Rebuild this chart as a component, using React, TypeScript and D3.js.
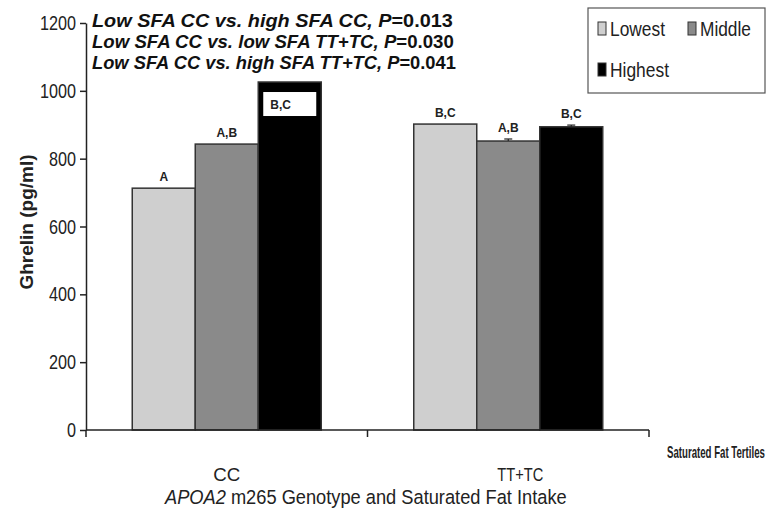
import React, { useEffect, useRef } from "react";
import * as d3 from "d3";

const width = 768,
  height = 508;

// genotype groups and SFA tertiles
const genotypes = ["CC", "TT+TC"];
const tertiles = ["Lowest", "Middle", "Highest"];
const ccValues = [713, 843, 1026];
const ttValues = [902, 852, 894];
const ccErrors = [0, 0, 0];
const ttErrors = [0, 6, 5];
const ccLetters = ["A", "A,B", "B,C"];
const ttLetters = ["B,C", "A,B", "B,C"];
const yTicks = [0, 200, 400, 600, 800, 1000, 1200];
const notes = [
  ["Low SFA CC vs. high SFA CC, ", "0.013"],
  ["Low SFA CC vs. low SFA TT+TC, ", "0.030"],
  ["Low SFA CC vs. high SFA TT+TC, ", "0.041"],
];

const arial = "'Liberation Sans', Arial, sans-serif";

// squeeze a text horizontally so that it fills `w` px (mimics Arial Narrow)
function squeeze(sel: d3.Selection<SVGTextElement, any, any, any>, px: number, py: number, w: number, anchor = "start") {
  const len = sel.node()!.getComputedTextLength();
  const k = w / len;
  const dx = anchor === "middle" ? -w / 2 : 0;
  sel.attr("transform", `translate(${px + dx},${py}) scale(${k},1)`);
  return sel;
}

export default function App() {
  const ref = useRef<SVGSVGElement>(null);

  useEffect(() => {
    const svg = d3.select(ref.current);
    svg.selectAll("*").remove();

    const x0 = 86,
      x1 = 649,
      yBottom = 430,
      yTop = 23;

    const x = d3.scaleBand().domain(genotypes).range([x0, x1]);
    const xInner = d3
      .scaleBand()
      .domain(tertiles)
      .range([0, 189]);
    const y = d3.scaleLinear().domain([0, 1200]).range([yBottom, yTop]);
    const color = d3
      .scaleOrdinal<string>()
      .domain(tertiles)
      .range(["#cfcfcf", "#8a8a8a", "#000000"]);

    const rows = genotypes.flatMap((g, gi) =>
      tertiles.map((t, ti) => ({
        g,
        t,
        ti,
        value: gi === 0 ? ccValues[ti] : ttValues[ti],
        err: gi === 0 ? ccErrors[ti] : ttErrors[ti],
        letter: gi === 0 ? ccLetters[ti] : ttLetters[ti],
      }))
    );
    const bx = (d: any) => x(d.g)! + x.bandwidth() / 2 - 94.5 + xInner(d.t)!;

    // bars
    svg
      .append("g")
      .selectAll("rect")
      .data(rows)
      .join("rect")
      .attr("x", bx)
      .attr("y", (d) => y(d.value))
      .attr("width", xInner.bandwidth())
      .attr("height", (d) => yBottom - y(d.value))
      .attr("fill", (d) => color(d.t))
      .attr("stroke", "#333")
      .attr("stroke-width", 1.5);

    // error bars
    const eb = svg.append("g").attr("stroke", "#222").attr("stroke-width", 1.2);
    rows
      .filter((d) => d.err > 0)
      .forEach((d) => {
        const cx = bx(d) + xInner.bandwidth() / 2;
        eb.append("line").attr("x1", cx).attr("x2", cx).attr("y1", y(d.value)).attr("y2", y(d.value + d.err));
        eb.append("line").attr("x1", cx - 4).attr("x2", cx + 4).attr("y1", y(d.value + d.err)).attr("y2", y(d.value + d.err));
      });

    // letters
    const lab = svg
      .append("g")
      .attr("font-family", arial)
      .attr("font-weight", "bold")
      .attr("font-size", 12)
      .attr("fill", "#222");
    rows.forEach((d) => {
      const cx = bx(d) + xInner.bandwidth() / 2;
      if (d.g === "CC" && d.t === "Highest") {
        lab
          .append("rect")
          .attr("x", bx(d) + 5)
          .attr("y", y(d.value) + 10)
          .attr("width", xInner.bandwidth() - 10)
          .attr("height", 24)
          .attr("fill", "#fff");
        lab
          .append("text")
          .attr("x", bx(d) + 12)
          .attr("y", y(d.value) + 27)
          .text(d.letter);
      } else {
        lab
          .append("text")
          .attr("x", cx)
          .attr("y", y(d.value + d.err) - 7)
          .attr("text-anchor", "middle")
          .text(d.letter);
      }
    });

    // y axis
    const yAxis = svg
      .append("g")
      .attr("transform", `translate(${x0},0)`)
      .call(
        d3
          .axisLeft(y)
          .tickValues(yTicks)
          .tickFormat(() => "")
          .tickSize(6)
          .tickSizeOuter(0)
      );
    yAxis.select(".domain").attr("stroke", "#222").attr("stroke-width", 1.5);
    yAxis.selectAll(".tick line").attr("stroke", "#222").attr("stroke-width", 1.5);
    yTicks.forEach((v) => {
      const s = String(v);
      const t = svg
        .append("text")
        .attr("font-family", arial)
        .attr("font-size", 20)
        .attr("fill", "#222")
        .text(s);
      squeeze(t, x0 - 10 - s.length * 9, y(v) + 7, s.length * 9);
    });

    // x axis
    const xAxis = svg
      .append("g")
      .attr("transform", `translate(0,${yBottom})`)
      .call(d3.axisBottom(x).tickSize(0).tickFormat(() => ""));
    xAxis.select(".domain").remove();
    xAxis
      .append("line")
      .attr("x1", x0)
      .attr("x2", x1)
      .attr("stroke", "#222")
      .attr("stroke-width", 1.5);
    [x0, x(genotypes[1])!, x1].forEach((px) =>
      xAxis.append("line").attr("x1", px).attr("x2", px).attr("y1", 0).attr("y2", 7).attr("stroke", "#222").attr("stroke-width", 1.5)
    );
    genotypes.forEach((g) => {
      const t = svg
        .append("text")
        .attr("font-family", arial)
        .attr("font-size", 19)
        .attr("fill", "#222")
        .text(g);
      squeeze(t, x(g)! + x.bandwidth() / 2 + (g === "CC" ? 0 : 12), 481, g === "CC" ? 27 : 46, "middle");
    });

    const st = svg
      .append("text")
      .attr("font-family", arial)
      .attr("font-weight", "bold")
      .attr("font-size", 16)
      .attr("fill", "#222")
      .text("Saturated Fat Tertiles");
    squeeze(st, 667, 458, 98);

    const title = svg
      .append("text")
      .attr("font-family", arial)
      .attr("font-size", 19.5)
      .attr("fill", "#222");
    title.append("tspan").attr("font-style", "italic").text("APOA2");
    title.append("tspan").text(" m265 Genotype and Saturated Fat Intake");
    squeeze(title, 165, 504, 402);

    svg
      .append("text")
      .attr("transform", "translate(33,222) rotate(-90)")
      .attr("text-anchor", "middle")
      .attr("font-family", arial)
      .attr("font-weight", "bold")
      .attr("font-size", 19)
      .attr("fill", "#222")
      .text("Ghrelin (pg/ml)");

    // comparisons
    const noteLen = [361, 362, 364];
    notes.forEach(([a, p], i) => {
      const t = svg
        .append("text")
        .attr("font-family", arial)
        .attr("font-weight", "bold")
        .attr("font-size", 17.5)
        .attr("fill", "#111");
      t.append("tspan").attr("font-style", "italic").text(a);
      t.append("tspan").attr("font-style", "italic").text("P");
      t.append("tspan").text("=" + p);
      squeeze(t, 92, 27 + i * 21, noteLen[i]);
    });

    // legend
    const lg = svg.append("g");
    lg.append("rect")
      .attr("x", 588)
      .attr("y", 8)
      .attr("width", 177)
      .attr("height", 85)
      .attr("fill", "#fff")
      .attr("stroke", "#555")
      .attr("stroke-width", 1.2);
    const pos = [
      [598, 22],
      [688, 22],
      [598, 63],
    ];
    const legLen = [55, 51, 59];
    tertiles.forEach((t, i) => {
      const [lx, ly] = pos[i];
      lg.append("rect")
        .attr("x", lx)
        .attr("y", ly)
        .attr("width", 8)
        .attr("height", 13)
        .attr("fill", color(t))
        .attr("stroke", "#333")
        .attr("stroke-width", 1);
      const tx = lg
        .append("text")
        .attr("font-family", arial)
        .attr("font-size", 20)
        .attr("fill", "#222")
        .text(t);
      squeeze(tx, lx + 12, ly + 14, legLen[i]);
    });
  }, []);

  return (
    <svg
      ref={ref}
      width={width}
      height={height}
      style={{ position: "absolute", left: 0, top: 0, display: "block", background: "#fff" }}
    />
  );
}
